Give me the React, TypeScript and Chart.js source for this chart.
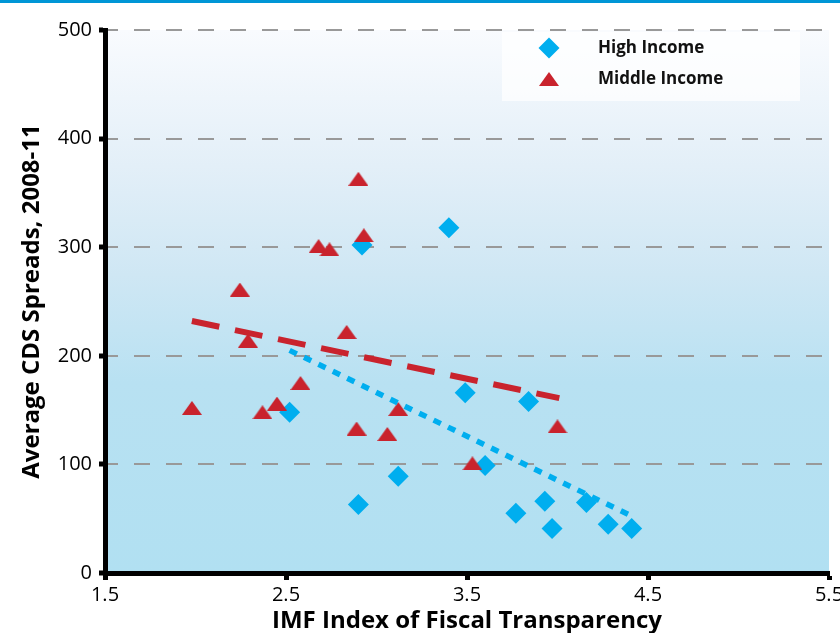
import React, { useEffect, useRef } from 'react';
import { Chart, registerables } from 'chart.js';

Chart.register(...registerables);

// ---- data ----
const seriesLabels = ['High Income', 'Middle Income'];
const highX = [2.52, 2.92, 2.90, 3.12, 3.40, 3.49, 3.60, 3.84, 3.77, 3.93, 3.97, 4.16, 4.28, 4.41];
const highY = [148, 302, 63, 89, 318, 166, 99, 158, 55, 66, 41, 65, 45, 41];
const midX = [2.90, 2.93, 2.68, 2.74, 2.245, 2.29, 2.835, 1.98, 2.37, 2.45, 2.58, 2.89, 3.06, 3.12, 3.53, 4.00];
const midY = [363, 311, 301, 298, 261, 214, 222, 152, 148, 156, 175, 133, 128, 151, 101, 135];
const midTrendX = [1.98, 4.01];
const midTrendY = [232, 161];
const highTrendX = [2.52, 4.39];
const highTrendY = [205, 54];
const xTickValues = [1.5, 2.5, 3.5, 4.5, 5.5];
const yMin = 0;
const yMax = 500;
const yStep = 100;
const xTitle = 'IMF Index of Fiscal Transparency';
const yTitle = 'Average CDS Spreads, 2008-11';

const BLUE = '#00aeef';
const RED = '#c9232d';
const FONT = "'Open Sans', 'DejaVu Sans', sans-serif";

function makeTriangle(w: number, h: number, color: string) {
  const c = document.createElement('canvas');
  c.width = w;
  c.height = h;
  const g = c.getContext('2d')!;
  g.fillStyle = color;
  g.beginPath();
  g.moveTo(w / 2, 0);
  g.lineTo(w, h);
  g.lineTo(0, h);
  g.closePath();
  g.fill();
  return c;
}

const decorPlugin = {
  id: 'decor',
  beforeDraw(chart: any) {
    const { ctx, chartArea: a, width } = chart;
    ctx.save();
    ctx.fillStyle = '#ffffff';
    ctx.fillRect(0, 0, chart.width, chart.height);
    const g = ctx.createLinearGradient(0, a.top, 0, a.bottom);
    g.addColorStop(0, '#f9fbfe');
    g.addColorStop(0.25, '#e3eff8');
    g.addColorStop(0.45, '#cfe7f4');
    g.addColorStop(0.65, '#b8e1f2');
    g.addColorStop(1, '#b1e0f2');
    ctx.fillStyle = g;
    ctx.fillRect(a.left, a.top, a.right - a.left, a.bottom - a.top);
    ctx.fillStyle = '#0096d6';
    ctx.fillRect(0, 0, width, 3);
    ctx.restore();
  },
  afterDraw(chart: any) {
    const { ctx } = chart;
    ctx.save();
    ctx.fillStyle = 'rgba(255,255,255,0.72)';
    ctx.fillRect(502, 32, 298, 69);
    // diamond
    const dx = 549, dy = 48, r = 10.5;
    ctx.fillStyle = BLUE;
    ctx.beginPath();
    ctx.moveTo(dx - r, dy);
    ctx.lineTo(dx, dy - r);
    ctx.lineTo(dx + r, dy);
    ctx.lineTo(dx, dy + r);
    ctx.closePath();
    ctx.fill();
    // triangle
    const tx = 549, ty = 79;
    ctx.fillStyle = RED;
    ctx.beginPath();
    ctx.moveTo(tx, ty - 7);
    ctx.lineTo(tx + 10, ty + 7);
    ctx.lineTo(tx - 10, ty + 7);
    ctx.closePath();
    ctx.fill();
    ctx.fillStyle = '#111';
    ctx.font = `bold 17px ${FONT}`;
    ctx.textBaseline = 'middle';
    ctx.textAlign = 'left';
    ctx.fillText(seriesLabels[0], 598, 48);
    ctx.fillText(seriesLabels[1], 598, 79);
    ctx.restore();
  },
};

export default function App() {
  const ref = useRef<HTMLCanvasElement>(null);
  useEffect(() => {
    const tri = makeTriangle(20, 14, RED);
    const chart = new Chart(ref.current!, {
      type: 'scatter',
      data: {
        datasets: [
          {
            label: seriesLabels[0],
            data: highX.map((x, i) => ({ x, y: highY[i] })),
            pointStyle: 'rectRot',
            pointRadius: 10.5,
            pointBackgroundColor: BLUE,
            pointBorderWidth: 0,
            order: 2,
          },
          {
            label: seriesLabels[1],
            data: midX.map((x, i) => ({ x, y: midY[i] })),
            pointStyle: tri as any,
            pointRadius: 10,
            order: 1,
          },
          {
            label: 'mid trend',
            data: midTrendX.map((x, i) => ({ x, y: midTrendY[i] })),
            showLine: true,
            borderColor: RED,
            borderWidth: 6,
            borderDash: [28, 16],
            pointRadius: 0,
            borderCapStyle: 'butt',
            order: 0,
          } as any,
          {
            label: 'high trend',
            data: highTrendX.map((x, i) => ({ x, y: highTrendY[i] })),
            showLine: true,
            borderColor: BLUE,
            borderWidth: 5.5,
            borderDash: [8, 8],
            pointRadius: 0,
            borderCapStyle: 'butt',
            order: 0,
          } as any,
        ],
      },
      options: {
        responsive: false,
        animation: false,
        layout: { padding: { top: 30, right: 10, bottom: 0, left: 0 } },
        plugins: { legend: { display: false }, tooltip: { enabled: false } },
        scales: {
          x: {
            type: 'linear',
            min: xTickValues[0],
            max: xTickValues[xTickValues.length - 1],
            afterBuildTicks: (s: any) => {
              s.ticks = xTickValues.map((v) => ({ value: v }));
            },
            afterFit: (s: any) => {
              s.height = 60;
              s.paddingLeft = 0;
              s.paddingRight = 0;
            },
            grid: {
              display: true,
              drawOnChartArea: false,
              drawTicks: true,
              tickLength: 7,
              tickColor: '#000',
              tickWidth: 5,
              color: '#000',
            },
            border: { display: true, color: '#000', width: 5 },
            ticks: {
              color: '#000',
              font: { family: FONT, size: 20 },
              padding: 3,
              autoSkip: false,
              maxRotation: 0,
              callback: (v: any) => Number(v).toFixed(1),
            },
            title: {
              display: true,
              text: xTitle,
              color: '#000',
              font: { family: FONT, size: 24, weight: 'bold', lineHeight: 1 },
              padding: { top: 0, bottom: 0 },
            },
          },
          y: {
            min: yMin,
            max: yMax,
            afterFit: (s: any) => {
              s.width = 105;
            },
            grid: {
              color: '#999999',
              lineWidth: 2,
              drawTicks: true,
              tickLength: 6,
              tickColor: '#000',
              tickWidth: 5,
              tickBorderDash: [],
            },
            border: { display: true, color: '#000', width: 5, dash: [16, 16], dashOffset: 6 },
            ticks: {
              stepSize: yStep,
              color: '#000',
              font: { family: FONT, size: 20 },
              padding: 7,
            },
            title: {
              display: true,
              text: yTitle,
              color: '#000',
              font: { family: FONT, size: 24, weight: 'bold', lineHeight: 1 },
              padding: { top: 20, bottom: 0 },
            },
          },
        },
      } as any,
      plugins: [decorPlugin],
    });
    return () => chart.destroy();
  }, []);
  return (
    <div style={{ position: 'absolute', left: 0, top: 0, width: 840, height: 633 }}>
      <canvas ref={ref} width={840} height={633} style={{ display: 'block' }} />
    </div>
  );
}
